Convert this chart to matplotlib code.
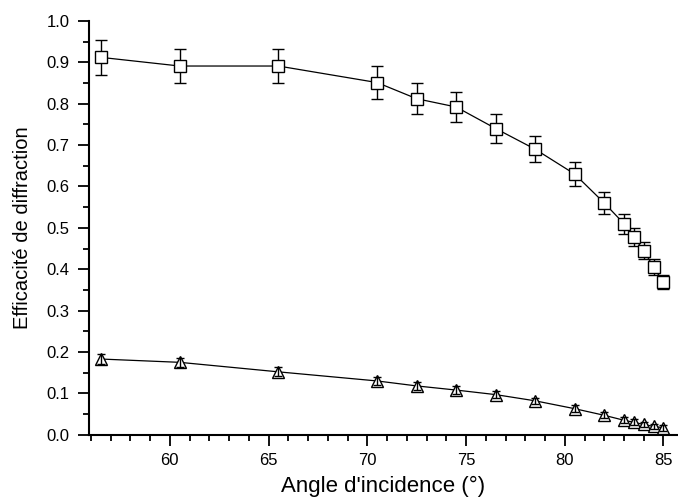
import matplotlib
matplotlib.use("Agg")
from matplotlib import pyplot as plt
from matplotlib.ticker import MultipleLocator

# Angles d'incidence (degrés)
angle = [56.5, 60.5, 65.5, 70.5, 72.5, 74.5, 76.5, 78.5, 80.5, 82.0,
         83.0, 83.5, 84.0, 84.5, 85.0]

# Efficacité - série carrés
eff_sq = [0.912, 0.891, 0.891, 0.851, 0.812, 0.792, 0.740, 0.690, 0.630,
          0.560, 0.510, 0.478, 0.445, 0.405, 0.368]
err_sq = [0.042, 0.041, 0.041, 0.039, 0.038, 0.037, 0.034, 0.032, 0.029,
          0.026, 0.024, 0.022, 0.021, 0.019, 0.017]

# Efficacité - série triangles
eff_tri = [0.183, 0.175, 0.152, 0.130, 0.118, 0.108, 0.097, 0.082, 0.063,
           0.047, 0.035, 0.030, 0.025, 0.020, 0.017]
err_tri = [0.012, 0.011, 0.011, 0.010, 0.009, 0.009, 0.009, 0.008, 0.008,
           0.007, 0.007, 0.007, 0.007, 0.007, 0.007]

plt.rcParams['font.family'] = ['Liberation Sans', 'DejaVu Sans']

fig = plt.figure(figsize=(6.78, 4.98), dpi=100)
ax = fig.add_axes([0.131, 0.127, 0.868, 0.831])

ax.plot(angle, eff_sq, color='black', lw=0.9, zorder=1)
ax.errorbar(angle, eff_sq, yerr=err_sq, fmt='none', ecolor='black',
            elinewidth=1.0, capsize=4, capthick=1.0, zorder=2)
ax.plot(angle, eff_sq, ls='none', marker='s', ms=8, mfc='white',
        mec='black', mew=1.0, zorder=3)

ax.plot(angle, eff_tri, color='black', lw=0.9, zorder=1)
ax.plot(angle, eff_tri, ls='none', marker='^', ms=8, mfc='white',
        mec='black', mew=1.0, zorder=3)
ax.errorbar(angle, eff_tri, yerr=err_tri, fmt='none', ecolor='black',
            elinewidth=1.0, capsize=3, capthick=1.0, zorder=4)

ax.set_xlim(55.9, 85.7)
ax.set_ylim(0.0, 1.0)
ax.xaxis.set_major_locator(MultipleLocator(5))
ax.xaxis.set_minor_locator(MultipleLocator(1))
ax.yaxis.set_major_locator(MultipleLocator(0.1))
ax.yaxis.set_minor_locator(MultipleLocator(0.05))
ax.yaxis.set_major_formatter(plt.FormatStrFormatter('%.1f'))

for side in ['top', 'right']:
    ax.spines[side].set_visible(False)
for side in ['left', 'bottom']:
    ax.spines[side].set_linewidth(1.5)

ax.tick_params(which='major', direction='out', length=8, width=1.3,
               labelsize=12)
ax.tick_params(axis='y', which='major', pad=6)
ax.tick_params(axis='x', which='major', pad=5)
ax.tick_params(which='minor', direction='out', length=4, width=1.3)

ax.set_xlabel("Angle d'incidence (°)", fontsize=16, labelpad=6)
ax.set_ylabel("Efficacité de diffraction", fontsize=14.5, labelpad=10)

fig.savefig('out.png', dpi=100)
